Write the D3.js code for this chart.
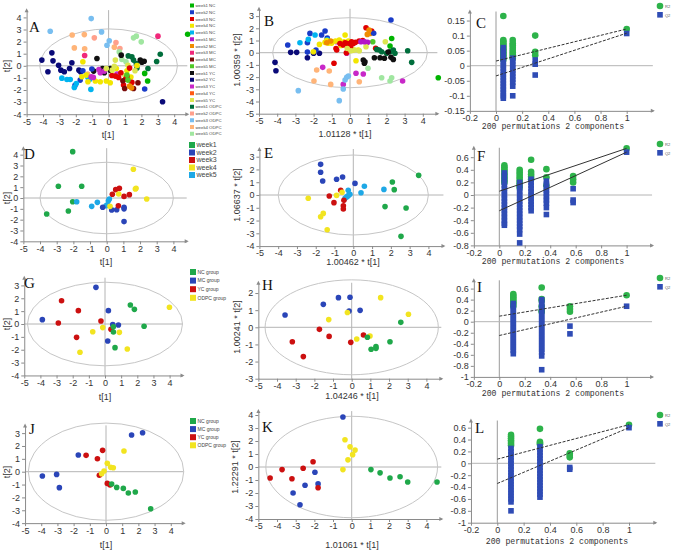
<!DOCTYPE html>
<html><head><meta charset="utf-8">
<script src="https://cdn.jsdelivr.net/npm/d3@7"></script>
<style>body{margin:0;background:#fff}svg{display:block}</style>
</head><body><script>
// ---------------- DATA ----------------
const groupsA = ["week1 NC","week2 NC","week3 NC","week4 NC","week5 NC","week1 MC","week2 MC","week3 MC","week4 MC","week5 MC","week1 YC","week2 YC","week3 YC","week4 YC","week5 YC","week1 ODPC","week2 ODPC","week3 ODPC","week4 ODPC","week5 ODPC"];
const paletteA = ['#00b400','#1a3cc8','#e00000','#f2e600','#00b4f0','#b414c8','#f08c00','#f0287a','#7a0a0a','#50c828','#101010','#0a0a78','#c828c8','#ff5a14','#dce650','#006e3c','#ffa08c','#78bef0','#ffb478','#a0e6a0'];
const ptsA = [[-1.06,3.90,17],[-3.56,2.86,17],[-0.43,2.80,17],[0.04,2.06,17],[-0.10,1.70,17],
[-2.22,2.55,18],[-1.48,2.58,18],[-2.09,1.48,18],[-1.46,1.40,18],[0.35,1.54,18],[-1.28,-0.69,18],
[-0.87,2.31,16],[0.45,1.92,16],[0.69,1.43,16],[3.01,2.45,7],[-1.46,0.85,7],
[1.52,2.31,19],[1.69,2.45,19],[1.99,1.98,19],[0.81,0.52,19],[1.06,0.33,19],[0.65,1.15,19],
[4.82,2.61,0],
[3.15,0.96,15],[2.93,0.36,15],[2.40,-0.22,15],[1.69,0.19,15],[1.73,-0.19,15],[1.52,0.47,15],[1.42,0.74,15],[1.20,0.82,15],
[2.17,0.38,10],[2.03,0.30,10],[0.77,0.88,10],[1.93,0.47,10],[-0.71,0.60,10],[-0.91,-0.44,10],[-0.37,-0.22,10],[0.10,-0.22,10],[0.10,-0.36,10],[-0.26,-0.58,10],
[-4.07,0.47,11],[-3.46,1.07,11],[-3.39,0.41,11],[-3.70,-0.49,11],[-3.05,0.05,11],[-2.91,-0.36,11],[-2.70,-0.49,11],[-2.24,0.25,11],[-1.81,-0.36,11],[-1.71,-0.49,11],[-2.38,-0.22,11],[3.29,-2.97,11],
[-1.57,-0.41,1],[-1.02,-0.27,1],[2.20,-1.92,1],[-1.73,-1.18,1],[-2.05,-1.62,1],
[-2.85,-1.02,4],[-2.54,-1.13,4],[-2.34,-1.13,4],[-1.97,-1.46,4],[-2.09,-1.79,4],[-1.08,-1.95,4],[-1.26,-0.96,4],[-1.16,-1.13,4],
[-1.57,0.33,3],[-1.36,-0.77,3],[-1.63,-0.91,3],[-1.26,-1.32,3],[-0.81,-1.26,3],[-0.51,-1.32,3],[-0.14,-1.26,3],[0.10,-1.40,3],[0.41,0.47,14],[0.47,-0.22,3],[1.12,-0.41,3],[1.00,-0.80,14],[1.36,-0.93,3],[1.18,0.05,14],[1.61,-0.41,14],[1.73,0.03,3],
[-0.59,-0.30,12],[-0.51,-0.58,12],[-0.26,-0.44,12],[-1.06,-0.91,12],[-0.93,-0.96,12],[0.51,-0.69,12],
[0.41,-0.85,2],[0.61,-0.96,2],[0.75,-0.58,2],[1.04,-1.10,2],[1.28,-0.19,2],[1.12,-0.91,2],[1.42,-1.37,2],[0.91,-1.59,2],[0.20,-0.80,2],
[1.52,-1.87,8],[1.79,-1.40,8],[0.98,-1.87,8],[0.87,-1.24,8],
[1.12,-0.77,9],[1.18,-1.18,9],[2.20,-0.63,0],[2.38,-1.26,0],
[1.40,-1.81,6],[1.28,-1.68,6],
[-0.14,-0.22,14],[0.22,-0.36,14],[0.35,-0.05,14]];
const ptsB = [[2.25,2.68,1],
[0.88,2.05,2],[1.19,1.78,2],[1.10,1.58,6],[0.95,1.50,6],[1.30,1.60,1],[1.05,1.85,6],
[2.29,1.17,0],[2.20,0.55,0],[1.25,0.90,9],[1.94,0.90,14],[1.41,0.36,2],[1.61,0.22,15],
[1.47,0.27,15],[1.74,0.08,15],[2.01,-0.05,15],[2.20,0.08,15],[2.38,0.22,15],[2.47,-0.05,15],[3.17,0.16,15],[3.39,-0.79,15],
[0.82,-0.74,10],[0.79,-0.87,10],[0.73,-0.60,10],[1.34,-0.41,10],[1.65,-0.41,10],[1.89,-0.46,10],[2.25,-0.38,10],[2.38,-0.55,10],[2.10,0.05,10],
[4.85,-2.05,0],
[0.99,-1.28,19],[1.74,-2.05,19],[2.29,-2.05,19],[2.20,-2.32,19],
[2.89,-2.32,12],[0.73,-1.75,12],[0.33,-1.69,12],[-0.73,0.90,12],[-1.50,-1.20,12],[-0.37,-2.60,12],[0.97,0.85,5],[-0.18,-0.05,12],
[-0.18,-2.02,17],[-0.09,-1.91,17],[-0.27,-2.24,17],[-0.37,-2.98,17],[-0.59,-3.93,17],[-2.84,-3.11,17],
[-1.83,-1.42,18],[-1.14,-1.50,18],[-1.98,-2.32,18],[-1.06,-2.60,18],[0.51,-2.38,18],
[-4.12,-0.79,11],[-4.07,-1.48,11],[-3.26,0.03,11],[-2.93,0.03,11],[-2.34,-0.41,11],[-1.68,-0.05,11],[-2.00,-0.05,11],
[-3.42,0.63,1],[-2.20,1.58,1],[-1.56,1.45,1],[-1.37,1.78,1],[-2.34,0.82,1],[-1.87,0.22,1],[-2.34,0.05,1],[-1.25,1.20,1],
[-2.75,0.82,4],[-2.29,1.09,4],[-1.92,1.45,4],[-1.25,1.05,4],
[-2.01,0.08,3],[-1.68,0.68,3],[-1.37,0.85,3],[-1.28,1.00,3],[-1.19,0.78,3],[-1.01,0.78,3],[-0.59,1.04,3],[-0.27,1.45,3],[-0.33,0.90,3],[-0.09,0.96,3],[0.18,0.22,3],[0.46,0.22,3],[0.33,-0.66,3],[-0.50,0.60,3],[-0.80,0.95,3],
[-0.73,0.22,2],[-0.55,0.76,2],[-0.27,0.82,2],[-0.15,0.76,2],[-0.04,0.68,2],[0.09,0.90,2],[0.18,0.76,2],[0.04,0.49,2],[-0.37,0.63,2],[-0.77,0.35,2],[-0.88,-0.87,2],[0.00,0.62,2],[0.30,0.85,2],[0.50,0.95,2],[0.70,1.00,2],[-0.20,0.00,2],
[-1.28,0.82,6],[-1.06,0.96,6],
[-0.15,0.35,14],[0.05,0.16,14],[0.27,0.22,14],[0.51,0.16,14],[0.88,0.49,14],[0.60,0.90,5],[0.80,0.90,5]];

const weeks = ["week1","week2","week3","week4","week5"];
const ptsD = [[-2.04,4.28,0],[-2.9,1.08,0],[-1.5,1.08,0],[-2.04,-0.34,0],[-2.3,-1.2,0],[-3.6,-1.48,0],
[-1.8,-0.34,4],[-0.9,-0.77,4],[-0.56,-0.4,4],[0.04,-0.62,4],[0.1,-0.25,4],[0.16,-0.09,4],[-0.04,-0.71,4],
[-0.24,-0.86,1],[0.3,-1.1,1],[0.6,-1.08,1],[1.04,-0.86,1],[1.04,-1.0,1],[1.04,-2.18,1],
[0.34,0.34,2],[0.54,0.77,2],[0.76,0.89,2],[1.04,0.15,2],[1.36,0.31,2],[0.7,-0.71,2],
[1.6,2.65,3],[1.72,0.83,3],[1.76,0.9,3],[0.72,0.37,3],[2.4,-0.09,3],[0.2,-0.77,3]];
const ptsE = [[-1.74,2.4,1],[-1.74,1.78,1],[-1.63,1.1,1],[-0.89,1.23,1],[-0.57,1.41,1],[0.09,0.91,1],
[-0.27,0.37,4],[0.59,0.68,4],[0.41,0.18,4],[1.63,0.44,4],[-0.35,-0.15,4],[-0.27,-0.05,4],[-0.18,0.05,4],[-0.44,-0.26,4],
[2.08,1.02,0],[2.18,0.42,0],[3.48,1.54,0],[1.69,-0.91,0],[2.81,-1.02,0],[2.54,-3.24,0],
[-1.28,-0.08,2],[-0.67,0.37,2],[-1.03,-0.6,2],[-0.5,-0.42,2],[-0.53,-0.84,2],[-0.53,-1.1,2],
[-2.4,-0.26,3],[-0.89,-0.03,3],[-0.6,0.21,3],[-1.6,-1.44,3],[-1.74,-1.7,3],[-1.39,-2.72,3]];

const groupsG = ["NC group","MC group","YC group","ODPC group"];
const ptsG = [[-0.56,2.85,1],[-3.88,0.34,1],[0.21,1.04,1],[0.48,-0.05,1],[0.83,-0.08,1],[0.17,-1.32,1],
[-2.69,1.81,2],[-1.65,1.04,2],[-2.89,0.08,2],[-0.25,0.23,2],[-1.76,-1.04,2],[0.37,-0.41,2],
[1.57,1.48,0],[1.82,1.14,0],[2.42,-0.18,0],[0.52,-0.21,0],[0.52,-0.62,0],[0.62,-1.84,0],
[3.99,1.3,3],[-0.14,-0.28,3],[-0.76,-0.6,3],[0.89,-0.65,3],[-1.55,-2.2,3],[1.38,-1.94,3]];
const ptsH = [[-3.57,0.72,1],[-1.52,1.34,1],[-0.71,1.73,1],[-0.09,1.75,1],[-0.14,0.95,1],[0.45,0.99,1],
[1.55,1.73,3],[3.04,0.76,3],[-1.23,0.45,3],[-0.23,0.86,3],[0.27,-0.68,3],[0.98,-0.51,3],
[-1.73,-0.12,2],[-1.21,-0.53,2],[-3.18,-0.84,2],[-2.59,-1.71,2],[-0.05,-0.88,2],[0.63,-0.45,2],
[2.63,0.29,0],[2.05,-0.84,0],[0.84,-0.58,0],[1.3,-1.13,0],[1.3,-1.23,0],[1.04,-1.28,0]];
const ptsJ = [[-3.93,-0.34,1],[-3.05,-0.21,1],[-2.88,-1.24,1],[-1.71,1.3,1],[1.58,2.85,1],[2.26,3.03,1],
[-1.23,1.27,2],[-0.53,1.01,2],[-0.21,1.66,2],[-0.41,-0.28,2],[0.08,-0.91,2],[0.25,-1.04,2],
[1.11,1.61,3],[0.08,0.65,3],[0.29,0.34,3],[0.45,0.31,3],[-0.12,0.05,3],[-0.27,-0.16,3],
[0.35,-0.96,0],[0.66,-1.22,0],[1.07,-1.3,0],[1.38,-1.66,0],[1.81,-1.58,0],[2.76,-2.88,0]];
const ptsK = [[-0.47,3.85,1],[-2.77,-2.9,1],[-3.14,-2.0,1],[-1.97,-0.4,1],[-2.5,-1.4,1],[-1.8,-1.3,1],
[-4.37,-0.85,2],[-3.73,-0.2,2],[-2.6,-0.1,2],[-2.07,0.4,2],[-1.8,-1.6,2],[-3.2,-0.9,2],
[-0.36,2.1,3],[-0.09,1.55,3],[0.18,1.3,3],[-0.2,0.55,3],[-0.47,-0.2,3],[0.05,0.95,3],
[1.03,-0.2,0],[1.52,-0.45,0],[2.05,-0.85,0],[2.59,-0.75,0],[3.0,-1.15,0],[4.57,-1.15,0]];
const groupColors = ['#1fa84a','#2a45b8','#cc1010','#f2e420','#1ea8e6'];

// permutation tests: x = correlation, columns of R2 and Q2 values
const permCx = [0.056,0.128,0.30,1];
const permCr2 = [[0.165,0.085,0.08,0.075,0.07,0.065,0.06,0.055,0.05,0.045,0.04,0.035,0.03,0.025,0.02],[0.085,0.075,0.068,0.06,0.052,0.045,0.038,0.03,0.025],[0.10,0.046,0.035],[0.122]];
const permCq2 = [[0.06,0.05,0.04,0.03,0.02,0.01,0,-0.01,-0.02,-0.03,-0.04,-0.05,-0.06,-0.07,-0.08,-0.09,-0.10,-0.108],[0.025,0.015,0.005,-0.005,-0.015,-0.025,-0.035,-0.045,-0.055,-0.068,-0.10],[0.019,0.005,-0.031],[0.107]];
const permClines = [[0.0155,0.122],[-0.034,0.108]];
const permFx = [0.04,0.16,0.25,0.37,0.58,1];
const permFr2 = [[0.47,0.44,0.41,0.38,0.35,0.32,0.29,0.26,0.23,0.2],[0.4,0.36,0.32,0.28,0.24,0.2,0.16,0.12],[0.56,0.37,0.33,0.29,0.25],[0.41,0.28,0.15],[0.3,0.25,0.2],[0.74]];
const permFq2 = [[0.35,0.3,0.25,0.2,0.15,0.1,0.05,0,-0.05,-0.1,-0.15,-0.2,-0.25,-0.3,-0.35,-0.4,-0.45,-0.48],[0.2,0.15,0.1,0.05,0,-0.05,-0.1,-0.15,-0.2,-0.25,-0.3,-0.35,-0.4,-0.45,-0.5,-0.55,-0.62,-0.76],[0.25,0.2,0.15,0.1,0.05,0,-0.05,-0.1,-0.15,-0.2,-0.25],[0.22,0.17,0.12,0.07,0.02,-0.03,-0.08,-0.13,-0.2,-0.31],[0.1,-0.08,-0.12],[0.68]];
const permFlines = [[0.06,0.74],[-0.25,0.68]];
const permIx = [0.11,0.333,0.555,1];
const permIr2 = [[0.5,0.47,0.44,0.41,0.38,0.35,0.32,0.28],[0.62,0.41,0.38,0.28,0.2,0.18],[0.28,0.23,0.18],[0.48]];
const permIq2 = [[0.33,0.28,0.23,0.18,0.13,0.08,0.03,-0.02,-0.07,-0.12,-0.17,-0.22,-0.27,-0.32,-0.37,-0.42,-0.47,-0.52,-0.58],[0.4,0.35,0.3,0.25,0.2,0.15,0.1,0.05,0,-0.05,-0.1,-0.15,-0.2,-0.25,-0.3,-0.35,-0.4,-0.45,-0.5,-0.55,-0.62,-0.87],[-0.08,-0.22],[0.28]];
const permIlines = [[0.1,0.48],[-0.25,0.28]];
const permLx = [0.104,0.324,0.55,1];
const permLr2 = [[0.48,0.45,0.42,0.39,0.36,0.33,0.3],[0.58,0.36,0.34,0.32],[0.17,0.14,0.1],[0.65]];
const permLq2 = [[0.25,0.2,0.15,0.1,0.05,0,-0.05,-0.1,-0.15,-0.2,-0.25,-0.3,-0.35,-0.4,-0.45,-0.5,-0.55,-0.6,-0.65,-0.8],[0.28,0.23,0.18,0.13,0.08,0.03,-0.02,-0.07,-0.12,-0.17,-0.22,-0.27,-0.32,-0.37,-0.42,-0.47,-0.52,-0.57],[-0.07,-0.1],[0.6]];
const permLlines = [[0.07,0.65],[-0.34,0.6]];
const permLegend = ["R2","Q2"];
const permXLabel = "200 permutations 2 components";

// ---------------- DRAWING ----------------
const svg = d3.select("body").append("svg").attr("width",679).attr("height",552);
const FONT = "'Liberation Sans', Arial, sans-serif";
const AX = '#8a8a8a', TXT = '#333';

function arrowUp(g,x,y){ g.append('path').attr('d',`M${x-2},${y+4}L${x},${y}L${x+2},${y+4}Z`).attr('fill',AX); }
function arrowRight(g,x,y){ g.append('path').attr('d',`M${x-4},${y-2}L${x},${y}L${x-4},${y+2}Z`).attr('fill',AX); }

function styleAxis(a){
  a.select('.domain').attr('stroke',AX);
  a.selectAll('.tick line').attr('stroke',AX);
  a.selectAll('.tick text').attr('fill',TXT).attr('font-size',9).attr('font-family',FONT);
}

function frame(c, fmt){
  const x = d3.scaleLinear().domain(c.xd).range([c.x0 + c.xd[0]*c.xk, c.x0 + c.xd[1]*c.xk]);
  const y = d3.scaleLinear().domain(c.yd).range([c.y0 - c.yd[0]*c.yk, c.y0 - c.yd[1]*c.yk]);
  const g = svg.append('g');
  const xb = x(c.xd[0]), yb = y(c.yd[0]);
  const ax = g.append('g').attr('transform',`translate(0,${yb})`)
    .call(d3.axisBottom(x).tickValues(c.xt).tickSize(3).tickSizeOuter(0).tickPadding(1).tickFormat(fmt));
  const ay = g.append('g').attr('transform',`translate(${xb},0)`)
    .call(d3.axisLeft(y).tickValues(c.yt).tickSize(3).tickSizeOuter(0).tickPadding(2).tickFormat(fmt));
  styleAxis(ax); styleAxis(ay);
  arrowRight(g, x(c.xd[1])+2, yb); arrowUp(g, xb, y(c.yd[1])-2);
  g.append('text').text(c.letter).attr('x',c.lp[0]).attr('y',c.lp[1]).attr('font-family',"'Liberation Serif', 'Times New Roman', serif").attr('font-size',15).attr('fill','#111');
  return {x,y,g,xb,yb};
}

function scatter(c){
  const {x,y,g,xb,yb} = frame(c, d=>String(d));
  g.insert('ellipse',':first-child').attr('cx',x(0)).attr('cy',y(0)).attr('rx',x(c.ell[0])-x(0)).attr('ry',y(0)-y(c.ell[1]))
    .attr('fill','none').attr('stroke','#c6c6c6').attr('stroke-width',1);
  g.insert('line',':first-child').attr('x1',xb).attr('x2',x(c.xd[1])).attr('y1',y(0)).attr('y2',y(0)).attr('stroke','#b4b4b4');
  g.insert('line',':first-child').attr('x1',x(0)).attr('x2',x(0)).attr('y1',yb).attr('y2',y(c.yd[1])).attr('stroke','#b4b4b4');
  g.append('g').selectAll('circle').data(c.pts).join('circle')
    .attr('cx',d=>x(d[0])).attr('cy',d=>y(d[1])).attr('r',2.8).attr('fill',d=>c.colors[d[2]]);
  g.append('text').text(c.xlab).attr('x',c.xl[0]).attr('y',c.xl[1]).attr('text-anchor','middle')
    .attr('font-family',FONT).attr('font-size',9).attr('fill',TXT);
  g.append('text').text(c.ylab).attr('transform',`translate(${c.yl[0]},${c.yl[1]}) rotate(-90)`).attr('text-anchor','middle')
    .attr('font-family',FONT).attr('font-size',9).attr('fill',TXT);
}

function perm(c){
  const fmt = d => String(+d.toFixed(2));
  const {x,y,g,xb,yb} = frame(c, fmt);
  g.insert('line',':first-child').attr('x1',xb).attr('x2',x(c.xd[1])).attr('y1',y(0)).attr('y2',y(0)).attr('stroke','#b4b4b4');
  g.insert('line',':first-child').attr('x1',x(0)).attr('x2',x(0)).attr('y1',yb).attr('y2',y(c.yd[1])).attr('stroke','#9a9a9a');
  const r2 = [], q2 = [];
  c.px.forEach((xv,i)=>{ c.r2[i].forEach(v=>r2.push([xv,v])); c.q2[i].forEach(v=>q2.push([xv,v])); });
  g.append('g').selectAll('circle').data(r2).join('circle').attr('cx',d=>x(d[0])).attr('cy',d=>y(d[1])).attr('r',3.3).attr('fill','#2db34a');
  g.append('g').selectAll('rect').data(q2).join('rect').attr('x',d=>x(d[0])-2.8).attr('y',d=>y(d[1])-2.8).attr('width',5.6).attr('height',5.6).attr('fill','#2f4cb5');
  c.lines.forEach(l=>{
    g.append('line').attr('x1',x(0)).attr('y1',y(l[0])).attr('x2',x(1)).attr('y2',y(l[1]))
      .attr('stroke','#333').attr('stroke-width',1).attr('stroke-dasharray',c.dash?'3,1.5':null);
  });
  g.append('text').text(permXLabel).attr('x',c.xl[0]).attr('y',c.xl[1]).attr('text-anchor','middle')
    .attr('font-family',"'Liberation Mono','DejaVu Sans Mono',monospace").attr('font-size',8.2).attr('fill',TXT);
  // legend
  g.append('circle').attr('cx',c.lg[0]).attr('cy',c.lg[1]).attr('r',3.3).attr('fill','#2db34a');
  g.append('rect').attr('x',c.lg[0]-2.8).attr('y',c.lg[1]+6).attr('width',5.6).attr('height',5.6).attr('fill','#2f4cb5');
  permLegend.forEach((t,i)=>g.append('text').text(t).attr('x',c.lg[0]+5).attr('y',c.lg[1]+1.5+i*9).attr('font-size',4).attr('font-family',FONT).attr('fill','#555'));
}

function legend(items, colors, x, y0, dy, sq, fs){
  const g = svg.append('g');
  items.forEach((t,i)=>{
    g.append('rect').attr('x',x).attr('y',y0+i*dy-sq/2).attr('width',sq).attr('height',sq).attr('fill',colors[i]);
    g.append('text').text(t).attr('x',x+sq+1.5).attr('y',y0+i*dy+fs*0.35).attr('font-size',fs).attr('font-family',FONT).attr('fill','#444');
  });
}

const xt = [-5,-4,-3,-2,-1,0,1,2,3,4];
// Row 1
scatter({xd:[-5,4.8],yd:[-4,4.6],x0:108.6,xk:16.4,y0:65.8,yk:12.1,xt,yt:[-4,-3,-2,-1,0,1,2,3,4],
  pts:ptsA,colors:paletteA,ell:[4.2,3.05],letter:'A',lp:[29,32],xlab:'t[1]',xl:[108,138],ylab:'t[2]',yl:[10,66]});
scatter({xd:[-5,4.8],yd:[-5,3.6],x0:350,xk:18.2,y0:52.7,yk:12.2,xt,yt:[-5,-4,-3,-2,-1,0,1,2,3],
  pts:ptsB,colors:paletteA,ell:[4.25,2.87],letter:'B',lp:[264,26],xlab:'1.01128 * t[1]',xl:[345,137],ylab:'1.00359 * t[2]',yl:[240,60]});
perm({xd:[-0.2,1.2],yd:[-0.15,0.18],x0:496,xk:130.7,y0:65.7,yk:301,xt:[-0.2,0,0.2,0.4,0.6,0.8,1],yt:[-0.15,-0.1,-0.05,0,0.05,0.1,0.15],
  px:permCx,r2:permCr2,q2:permCq2,lines:permClines,dash:true,letter:'C',lp:[476,28],xl:[553,129],lg:[660,6]});
legend(groupsA, paletteA, 190, 5.5, 6.75, 4, 4.3);
// Row 2
scatter({xd:[-5,4.8],yd:[-4,4.6],x0:106.7,xk:16.67,y0:198,yk:10.83,xt,yt:[-4,-3,-2,-1,0,1,2,3,4],
  pts:ptsD,colors:groupColors,ell:[4.0,3.3],letter:'D',lp:[24,159],xlab:'t[1]',xl:[106,265],ylab:'t[2]',yl:[10,198]});
scatter({xd:[-5,4.8],yd:[-4,3.6],x0:353.3,xk:18.78,y0:195,yk:12.77,xt,yt:[-4,-3,-2,-1,0,1,2,3],
  pts:ptsE,colors:groupColors,ell:[4.0,3.13],letter:'E',lp:[264,158],xlab:'1.00462 * t[1]',xl:[353,265],ylab:'1.06637 * t[2]',yl:[240,195]});
perm({xd:[-0.2,1.2],yd:[-0.8,0.75],x0:499.3,xk:127.3,y0:195,yk:63,xt:[-0.2,0,0.2,0.4,0.6,0.8,1],yt:[-0.8,-0.6,-0.4,-0.2,0,0.2,0.4,0.6],
  px:permFx,r2:permFr2,q2:permFq2,lines:permFlines,dash:false,letter:'F',lp:[477,161],xl:[553,264],lg:[660,144]});
legend(weeks, groupColors, 189, 145, 7.5, 6, 7);
// Row 3
scatter({xd:[-5,4.8],yd:[-4,3.6],x0:105,xk:16.15,y0:324,yk:12.86,xt,yt:[-4,-3,-2,-1,0,1,2,3],
  pts:ptsG,colors:groupColors,ell:[4.8,3.25],letter:'G',lp:[24,288],xlab:'t[1]',xl:[105,400],ylab:'t[2]',yl:[10,324]});
scatter({xd:[-5,4.8],yd:[-3,2.6],x0:351.7,xk:18.67,y0:327.3,yk:17.13,xt,yt:[-3,-2,-1,0,1,2],
  pts:ptsH,colors:groupColors,ell:[4.64,2.77],letter:'H',lp:[262,290],xlab:'1.04246 * t[1]',xl:[352,399],ylab:'1.00241 * t[2]',yl:[240,327]});
perm({xd:[-0.2,1.2],yd:[-1,0.75],x0:499.3,xk:127.3,y0:321.7,yk:55.2,xt:[-0.2,0,0.2,0.4,0.6,0.8,1],yt:[-1,-0.8,-0.6,-0.4,-0.2,0,0.2,0.4,0.6],
  px:permIx,r2:permIr2,q2:permIq2,lines:permIlines,dash:true,letter:'I',lp:[477,292],xl:[553,396],lg:[660,278]});
legend(groupsG, groupColors, 190, 272, 8.6, 6, 5);
// Row 4
scatter({xd:[-5,4.8],yd:[-4,3.6],x0:106,xk:16.19,y0:471.7,yk:12.86,xt,yt:[-4,-3,-2,-1,0,1,2,3],
  pts:ptsJ,colors:groupColors,ell:[4.8,3.78],letter:'J',lp:[29,434],xlab:'t[1]',xl:[106,548],ylab:'t[2]',yl:[10,472]});
scatter({xd:[-5,4.8],yd:[-4,4.3],x0:351.7,xk:18.67,y0:467,yk:13,xt,yt:[-4,-3,-2,-1,0,1,2,3,4],
  pts:ptsK,colors:groupColors,ell:[4.6,3.9],letter:'K',lp:[262,432],xlab:'1.01061 * t[1]',xl:[352,548],ylab:'1.22291 * t[2]',yl:[238,467]});
perm({xd:[-0.2,1.2],yd:[-1,0.72],x0:497.3,xk:131.7,y0:463.3,yk:59.4,xt:[-0.2,0,0.2,0.4,0.6,0.8,1],yt:[-1,-0.8,-0.6,-0.4,-0.2,0,0.2,0.4,0.6],
  px:permLx,r2:permLr2,q2:permLq2,lines:permLlines,dash:true,letter:'L',lp:[475,433],xl:[557,544],lg:[660,415]});
legend(groupsG, groupColors, 190, 421, 8.1, 6, 5);
</script></body></html>
